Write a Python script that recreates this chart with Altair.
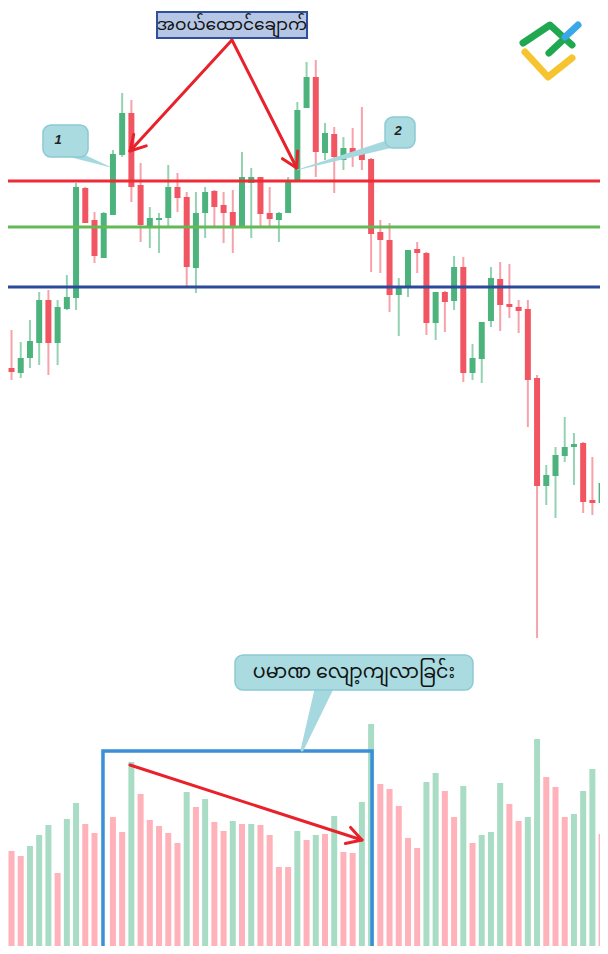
import altair as alt
import pandas as pd
import numpy as np

# ---------------- data ----------------
high = [365, 370, 358, 380, 408, 410, 400, 425, 517, 513, 488, 488, 550, 607, 600, 537, 493, 487, 535, 527,
        508, 508, 513, 510, 508, 510, 548, 532, 523, 513, 488, 523, 598, 638, 640, 577, 573, 563, 572, 593,
        542, 480, 477, 422, 450, 458, 448, 408, 409, 444, 443, 356, 378, 433, 438, 436, 400, 400, 325, 235,
        253, 283, 267, 258, 243, 220]
low = [323, 320, 322, 332, 335, 325, 335, 390, 390, 477, 437, 442, 485, 543, 498, 458, 452, 447, 472, 488,
       413, 407, 462, 473, 457, 447, 473, 462, 473, 473, 458, 487, 518, 592, 523, 540, 507, 530, 533, 530,
       428, 427, 388, 364, 403, 427, 365, 360, 368, 390, 318, 320, 317, 373, 369, 382, 367, 273, 62, 195,
       182, 238, 215, 187, 185, 175]
open_ = [348, 332, 327, 342, 357, 400, 357, 391, 402, 512, 480, 442, 485, 545, 587, 515, 473, 480, 482, 513,
         503, 432, 487, 509, 495, 488, 474, 517, 523, 487, 480, 487, 520, 592, 623, 547, 566, 540, 552, 550,
         541, 468, 460, 405, 413, 451, 447, 377, 408, 399, 433, 327, 341, 379, 421, 396, 393, 391, 322, 214,
         224, 244, 253, 257, 200, 197]
close = [332, 328, 342, 359, 400, 357, 393, 403, 513, 477, 444, 487, 546, 587, 513, 475, 482, 482, 513, 502,
         433, 487, 508, 493, 487, 474, 523, 523, 486, 481, 487, 520, 590, 623, 548, 567, 543, 552, 545, 540,
         466, 460, 405, 412, 450, 447, 377, 408, 398, 433, 327, 342, 378, 422, 395, 393, 389, 320, 214, 225,
         245, 253, 256, 198, 197, 217]
volume = [121, 103, 98, 108, 119, 129, 81, 135, 151, 130, 121, 0, 137, 122, 192, 160, 134, 128, 121, 111,
          162, 147, 155, 132, 123, 133, 130, 130, 129, 119, 87, 87, 123, 114, 119, 120, 138, 102, 101, 152,
          230, 170, 165, 148, 116, 106, 172, 181, 163, 137, 168, 111, 119, 122, 171, 150, 133, 137, 215, 177,
          167, 137, 140, 163, 185, 120]
vol_side = ["d", "d", "d", "u", "u", "u", "d", "u", "u", "d",
            "d", "d", "d", "d", "u", "d", "d", "d", "d", "d",
            "u", "d", "u", "d", "d", "u", "d", "u", "d", "d",
            "d", "d", "u", "d", "u", "d", "u", "d", "d", "u",
            "u", "d", "d", "d", "d", "d", "u", "u", "d", "d",
            "u", "d", "u", "u", "u", "d", "d", "u", "u", "d",
            "d", "d", "u", "u", "u", "d"]
levels = [519, 473, 413]
level_colors = ["#ee2b36", "#62b955", "#2b4a9c"]

label_top = "အဝယ်ထောင်ချောက်"
label_vol = "ပမာဏ လျော့ကျလာခြင်း"

# ---------------- layout ----------------
W, H = 592, 938
XMIN, XMAX = 0.6182, 64.826
PMIN, PMAX = -246, 692
xs = alt.Scale(domain=[XMIN, XMAX], nice=False, zero=False, padding=0)
ps = alt.Scale(domain=[PMIN, PMAX], nice=False, zero=False, padding=0)
vs = alt.Scale(domain=[8, 946], nice=False, zero=False, padding=0)
pxx = W / (XMAX - XMIN)
pxp = H / (PMAX - PMIN)

n = len(high)
idx = list(range(n))
UP_BODY, DN_BODY = "#4db37d", "#f25562"
UP_WICK, DN_WICK = "#93d3b2", "#f7a2aa"
cdf = pd.DataFrame({"i": idx, "o": open_, "h": high, "l": low, "c": close})
up = cdf["c"] >= cdf["o"]
cdf["body"] = np.where(up, UP_BODY, DN_BODY)
cdf["wick"] = np.where(up, UP_WICK, DN_WICK)

vcol = {"u": "#a9dcc4", "d": "#ffb2b9"}
vdf = pd.DataFrame({"i": idx, "v": volume, "col": [vcol[s] for s in vol_side]})


def X(f="x"):
    return alt.X(f, type="quantitative", scale=xs, axis=None)


def P(f="p"):
    return alt.Y(f, type="quantitative", scale=ps, axis=None)


vol_layer = alt.Chart(vdf).mark_bar(size=6, clip=True).encode(
    x=X("i"), y=alt.Y("v:Q", scale=vs, axis=None), y2=alt.datum(0),
    color=alt.Color("col:N", scale=None))

wicks = alt.Chart(cdf).mark_rule(strokeWidth=2, clip=True).encode(
    x=X("i"), y=P("l"), y2="h:Q", color=alt.Color("wick:N", scale=None))
bodies = alt.Chart(cdf).mark_rule(strokeWidth=6, clip=True).encode(
    x=X("i"), y=P("o"), y2="c:Q", color=alt.Color("body:N", scale=None))

ldf = pd.DataFrame({"p": levels, "col": level_colors})
lines = alt.Chart(ldf).mark_rule(strokeWidth=3).encode(
    y=P("p"), color=alt.Color("col:N", scale=None))

# ---------------- annotations ----------------
arrows = [((24.91, 660), (13.85, 549)), ((24.91, 660), (31.93, 532)), ((13.85, -65), (39.01, -140))]


def head(x0, p0, x1, p1, L=17, ang=np.radians(30)):
    dx = (x1 - x0) * pxx
    dy = (p1 - p0) * pxp
    nn = np.hypot(dx, dy)
    bx, by = -dx / nn, -dy / nn
    pts = []
    for s in (1, -1):
        c, sn = np.cos(s * ang), np.sin(s * ang)
        rx = bx * c - by * sn
        ry = bx * sn + by * c
        pts.append((x1 + rx * L / pxx, p1 + ry * L / pxp))
    return pts


rows = []
for k, ((x0, p0), (x1, p1)) in enumerate(arrows):
    rows += [dict(seg=f"s{k}", ord=0, x=x0, p=p0), dict(seg=f"s{k}", ord=1, x=x1, p=p1)]
    a, b = head(x0, p0, x1, p1)
    rows += [dict(seg=f"h{k}", ord=0, x=a[0], p=a[1]), dict(seg=f"h{k}", ord=1, x=x1, p=p1),
             dict(seg=f"h{k}", ord=2, x=b[0], p=b[1])]
adf = pd.DataFrame(rows)
arrow_layer = alt.Chart(adf).mark_line(strokeWidth=3, color="#e8212b", strokeCap="round",
                                        strokeJoin="round").encode(
    x=X("x"), y=P("p"), detail="seg:N", order="ord:Q")

# callout tails (tapering)
tails = pd.DataFrame([
    dict(seg="t1", ord=0, x=7.13, p=548, w=9), dict(seg="t1", ord=1, x=11.68, p=533, w=0.5),
    dict(seg="t2", ord=0, x=42.37, p=557, w=9), dict(seg="t2", ord=1, x=31.96, p=530, w=0.5),
    dict(seg="t3", ord=0, x=34.89, p=12, w=18), dict(seg="t3", ord=1, x=32.51, p=-50, w=3),
])
tail_layer = alt.Chart(tails).mark_trail(color="#a6d9df", opacity=1).encode(
    x=X("x"), y=P("p"), size=alt.Size("w:Q", scale=None), detail="seg:N", order="ord:Q")

callouts = pd.DataFrame([
    dict(x=4.41, x2=9.30, p=575, p2=543),
    dict(x=41.51, x2=44.76, p=583, p2=552),
    dict(x=25.24, x2=51.05, p=45, p2=10),
])
callout_layer = alt.Chart(callouts).mark_rect(cornerRadius=8, fill="#a9dbe0", stroke="#8ccad2",
                                               strokeWidth=1.5).encode(
    x=X("x"), x2="x2:Q", y=P("p"), y2="p2:Q")

num_df = pd.DataFrame({"x": [6.04, 42.92], "p": [560, 569], "t": ["1", "2"]})
num_layer = alt.Chart(num_df).mark_text(fontSize=13, fontWeight="bold", fontStyle="italic",
                                        color="#222222", font="Liberation Sans").encode(
    x=X("x"), y=P("p"), text="t:N")

top_box = alt.Chart(pd.DataFrame([dict(x=16.78, x2=33.05, p=688, p2=662)])).mark_rect(
    fill="#b6c7e6", stroke="#2f4f9b", strokeWidth=2).encode(x=X("x"), x2="x2:Q", y=P("p"), y2="p2:Q")

MY_FONT = "Noto Sans Myanmar, Padauk, Myanmar Text, Myanmar3, Noto Sans, sans-serif"
txt_df = pd.DataFrame({"x": [24.91, 38.14], "p": [675, 28], "t": [label_top, label_vol], "s": [17, 19]})
txt_layer = alt.Chart(txt_df).mark_text(color="#111111", font=MY_FONT, baseline="middle").encode(
    x=X("x"), y=P("p"), text="t:N", size=alt.Size("s:Q", scale=None))

blue_box = alt.Chart(pd.DataFrame([dict(x=10.92, x2=40.10, p=-51, p2=-250)])).mark_rect(
    fillOpacity=0, stroke="#3a8fd8", strokeWidth=3.5, clip=True).encode(
    x=X("x"), x2="x2:Q", y=P("p"), y2="p2:Q")

# logo strokes
logo = pd.DataFrame([
    dict(seg="y", ord=0, x=56.69, p=648, col="#f6c431"), dict(seg="y", ord=1, x=59.19, p=623, col="#f6c431"),
    dict(seg="y", ord=2, x=61.79, p=642, col="#f6c431"),
    dict(seg="g", ord=0, x=56.48, p=657, col="#1fa84f"), dict(seg="g", ord=1, x=59.40, p=675, col="#1fa84f"),
    dict(seg="g", ord=2, x=61.79, p=655, col="#1fa84f"),
    dict(seg="g2", ord=0, x=59.29, p=647, col="#1fa84f"), dict(seg="g2", ord=1, x=60.81, p=660, col="#1fa84f"),
    dict(seg="b", ord=0, x=61.03, p=663, col="#3aa7e6"), dict(seg="b", ord=1, x=62.44, p=675, col="#3aa7e6"),
])
logo_layer = alt.Chart(logo).mark_line(strokeWidth=7, strokeCap="round", strokeJoin="round").encode(
    x=X("x"), y=P("p"), color=alt.Color("col:N", scale=None), detail="seg:N", order="ord:Q")

chart = alt.layer(
    vol_layer, wicks, bodies, lines, blue_box, arrow_layer, tail_layer, callout_layer, num_layer,
    top_box, txt_layer, logo_layer
).resolve_scale(y="independent").properties(
    width=W, height=H, padding=0, autosize=alt.AutoSizeParams(type="none"), background="white"
).configure_view(stroke=None)

chart.save("out.html", embed_options={"renderer": "svg", "actions": False})
